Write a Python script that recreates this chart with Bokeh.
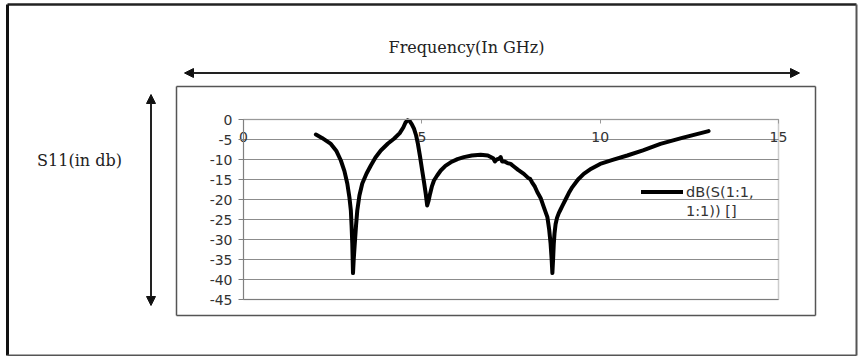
from bokeh.plotting import figure
from bokeh.models import (Label, Arrow, NormalHead, Legend, LegendItem, FixedTicker,
                          LinearAxis, ColumnDataSource, Range1d, BoxAnnotation)
from bokeh.embed import file_html
from bokeh.resources import INLINE

# ---- data ----
freq = [2.03, 2.2, 2.45, 2.6, 2.73, 2.83, 2.91, 2.97, 3.01, 3.03, 3.05, 3.07, 3.09,
        3.12, 3.155, 3.19, 3.25, 3.33, 3.45, 3.57, 3.7, 3.85, 4.05, 4.22, 4.38, 4.48,
        4.54, 4.6, 4.66, 4.72, 4.78, 4.84, 4.89, 4.95, 5.01, 5.06, 5.11, 5.15, 5.19,
        5.23, 5.28, 5.34, 5.43, 5.53, 5.66, 5.81, 6.0, 6.18, 6.4, 6.65, 6.85, 7.0,
        7.05, 7.1, 7.17, 7.21, 7.25, 7.32, 7.4, 7.49, 7.58, 7.7, 7.86, 7.98, 8.04,
        8.09, 8.17, 8.24, 8.33, 8.42, 8.52, 8.57, 8.61, 8.64, 8.66, 8.68, 8.70, 8.72,
        8.75, 8.79, 8.84, 8.89, 8.95, 9.03, 9.12, 9.22, 9.38, 9.54, 9.75, 10.0, 10.35,
        10.76, 11.2, 11.69, 12.3, 13.04]
s11 = [-3.75, -4.6, -6.1, -7.8, -10.25, -12.9, -16.0, -19.5, -22.75, -26.5, -31.0,
       -38.4, -35.0, -31.0, -26.5, -22.75, -19.0, -16.0, -13.5, -11.5, -9.5, -7.75,
       -6.0, -4.8, -3.4, -2.0, -0.8, -0.2, -0.4, -1.2, -2.3, -4.0, -6.1, -9.3, -12.75,
       -15.6, -18.6, -21.5, -20.3, -18.6, -16.8, -15.25, -14.0, -12.75, -11.6, -10.7,
       -9.9, -9.4, -9.0, -8.8, -9.0, -9.7, -10.5, -10.0, -9.8, -9.4, -10.5, -10.5,
       -10.9, -11.1, -11.75, -12.6, -13.6, -14.6, -14.9, -15.7, -16.8, -18.2, -19.6,
       -21.9, -24.4, -27.5, -31.0, -35.0, -38.4, -35.0, -31.0, -28.5, -26.2, -24.6,
       -23.4, -22.5, -21.4, -20.0, -18.4, -16.9, -15.0, -13.6, -12.3, -11.1, -10.1,
       -9.0, -7.7, -6.1, -4.6, -2.9]

x_ticks = [0, 5, 10, 15]
x_tick_labels = ["0", "5", "10", "15"]
y_ticks = [0, -5, -10, -15, -20, -25, -30, -35, -40, -45]
y_tick_labels = ["0", "-5", "-10", "-15", "-20", "-25", "-30", "-35", "-40", "-45"]
x_min, x_max = 0, 15
y_min, y_max = -45, 0

x_title = "Frequency(In GHz)"
y_title = "S11(in db)"
legend_lines = ["dB(S(1:1,", "1:1)) []"]

# ---- layout (pixels) ----
W, H = 858, 356
L, R, T, B = 243, 778, 119, 299          # plot-area box on the page
kx = (R - L) / (x_max - x_min)           # px per GHz
ky = (B - T) / (y_max - y_min)           # px per dB

p = figure(width=W, height=H, output_backend="svg", toolbar_location=None,
           x_range=Range1d(x_min - L / kx, x_min + (W - L) / kx),
           y_range=Range1d(y_max - (H - T) / ky, y_max + T / ky),
           x_axis_location=None, y_axis_location=None,
           min_border_left=0, min_border_right=0, min_border_top=0, min_border_bottom=0)
p.background_fill_color = "white"
p.border_fill_color = "white"
p.outline_line_color = None
p.xgrid.visible = False
p.ygrid.visible = False

# horizontal gridlines across the plot area only
p.segment(x0=[x_min] * len(y_ticks), x1=[x_max] * len(y_ticks), y0=y_ticks, y1=y_ticks,
          line_color="#8c8c8c", line_width=1, level="underlay")

# plot-area border
p.add_layout(BoxAnnotation(left=x_min, right=x_max, bottom=y_min, top=y_max,
                           fill_alpha=0, line_color="#555555", line_width=1.5,
                           level="underlay"))

# y axis at x = 0
yax = LinearAxis(fixed_location=x_min, bounds=(y_min, y_max))
yax.ticker = FixedTicker(ticks=y_ticks)
yax.major_label_overrides = {t: s for t, s in zip(y_ticks, y_tick_labels)}
yax.major_label_text_font = "DejaVu Sans"
yax.major_label_text_font_size = "14px"
yax.major_label_text_color = "#333333"
yax.axis_line_color = "#808080"
yax.major_tick_line_color = "#808080"
yax.major_tick_out = 5
yax.major_tick_in = 0
yax.minor_tick_line_color = None
yax.major_label_standoff = 6
p.add_layout(yax, "left")

# x axis crossing at y = 0 (top of the plot area)
xax = LinearAxis(fixed_location=y_max, bounds=(x_min, x_max))
xax.ticker = FixedTicker(ticks=x_ticks)
xax.major_label_overrides = {t: s for t, s in zip(x_ticks, x_tick_labels)}
xax.major_label_text_font = "DejaVu Sans"
xax.major_label_text_font_size = "14px"
xax.major_label_text_color = "#333333"
xax.axis_line_color = "#999999"
xax.major_tick_line_color = "#999999"
xax.major_tick_out = 4
xax.major_tick_in = 0
xax.minor_tick_line_color = None
xax.major_label_standoff = 8
p.add_layout(xax, "below")

src = ColumnDataSource(data=dict(f=freq, s=s11))
r = p.line("f", "s", source=src, line_color="black", line_width=4,
           line_join="round", line_cap="round")

legend = Legend(items=[LegendItem(label=legend_lines[0], renderers=[r]),
                       LegendItem(label=legend_lines[1], renderers=[])],
                location=(641, H - 220), orientation="vertical",
                padding=0, margin=0, spacing=0, glyph_width=42, glyph_height=19,
                label_height=19, label_standoff=3,
                label_text_font="DejaVu Sans", label_text_font_size="14.5px",
                label_text_color="#333333", border_line_color=None,
                background_fill_alpha=0)
p.add_layout(legend, "center")

# ---- decorations around the plot (canvas pixels, y measured from the bottom) ----
def seg(x0, y0, x1, y1, color="#444444", width=1.5, heads=False):
    kw = {}
    if heads:
        kw["start"] = NormalHead(size=9, fill_color="#111111", line_color="#111111")
        kw["end"] = NormalHead(size=9, fill_color="#111111", line_color="#111111")
    else:
        kw["end"] = None
    p.add_layout(Arrow(x_start=x0, y_start=H - y0, x_end=x1, y_end=H - y1,
                       start_units="screen", end_units="screen",
                       line_color=color, line_width=width, **kw))

# outer frame
seg(7, 4, 856, 4, color="#222222", width=2.5)
seg(7, 4, 7, 355, color="#111111", width=3)
seg(7, 355, 856, 355, color="#555555", width=2)
seg(856, 4, 856, 355, color="#555555", width=2)
# chart box
seg(176, 86, 815, 86, color="#555555", width=1.5)
seg(176, 86, 176, 315, color="#555555", width=1.5)
seg(176, 315, 815, 315, color="#555555", width=1.5)
seg(815, 86, 815, 315, color="#555555", width=1.5)
# double arrows
seg(184, 72.5, 799, 72.5, color="#222222", width=2, heads=True)
seg(150.5, 94, 150.5, 305, color="#222222", width=2, heads=True)

p.add_layout(Label(x=466, y=H - 47, text=x_title, x_units="screen", y_units="screen",
                   text_font="DejaVu Serif", text_font_size="16px",
                   text_color="#222222", text_align="center", text_baseline="middle"))
p.add_layout(Label(x=79, y=H - 160, text=y_title, x_units="screen", y_units="screen",
                   text_font="DejaVu Serif", text_font_size="16px",
                   text_color="#222222", text_align="center", text_baseline="middle"))

open("out.html", "w").write(file_html(p, INLINE))
